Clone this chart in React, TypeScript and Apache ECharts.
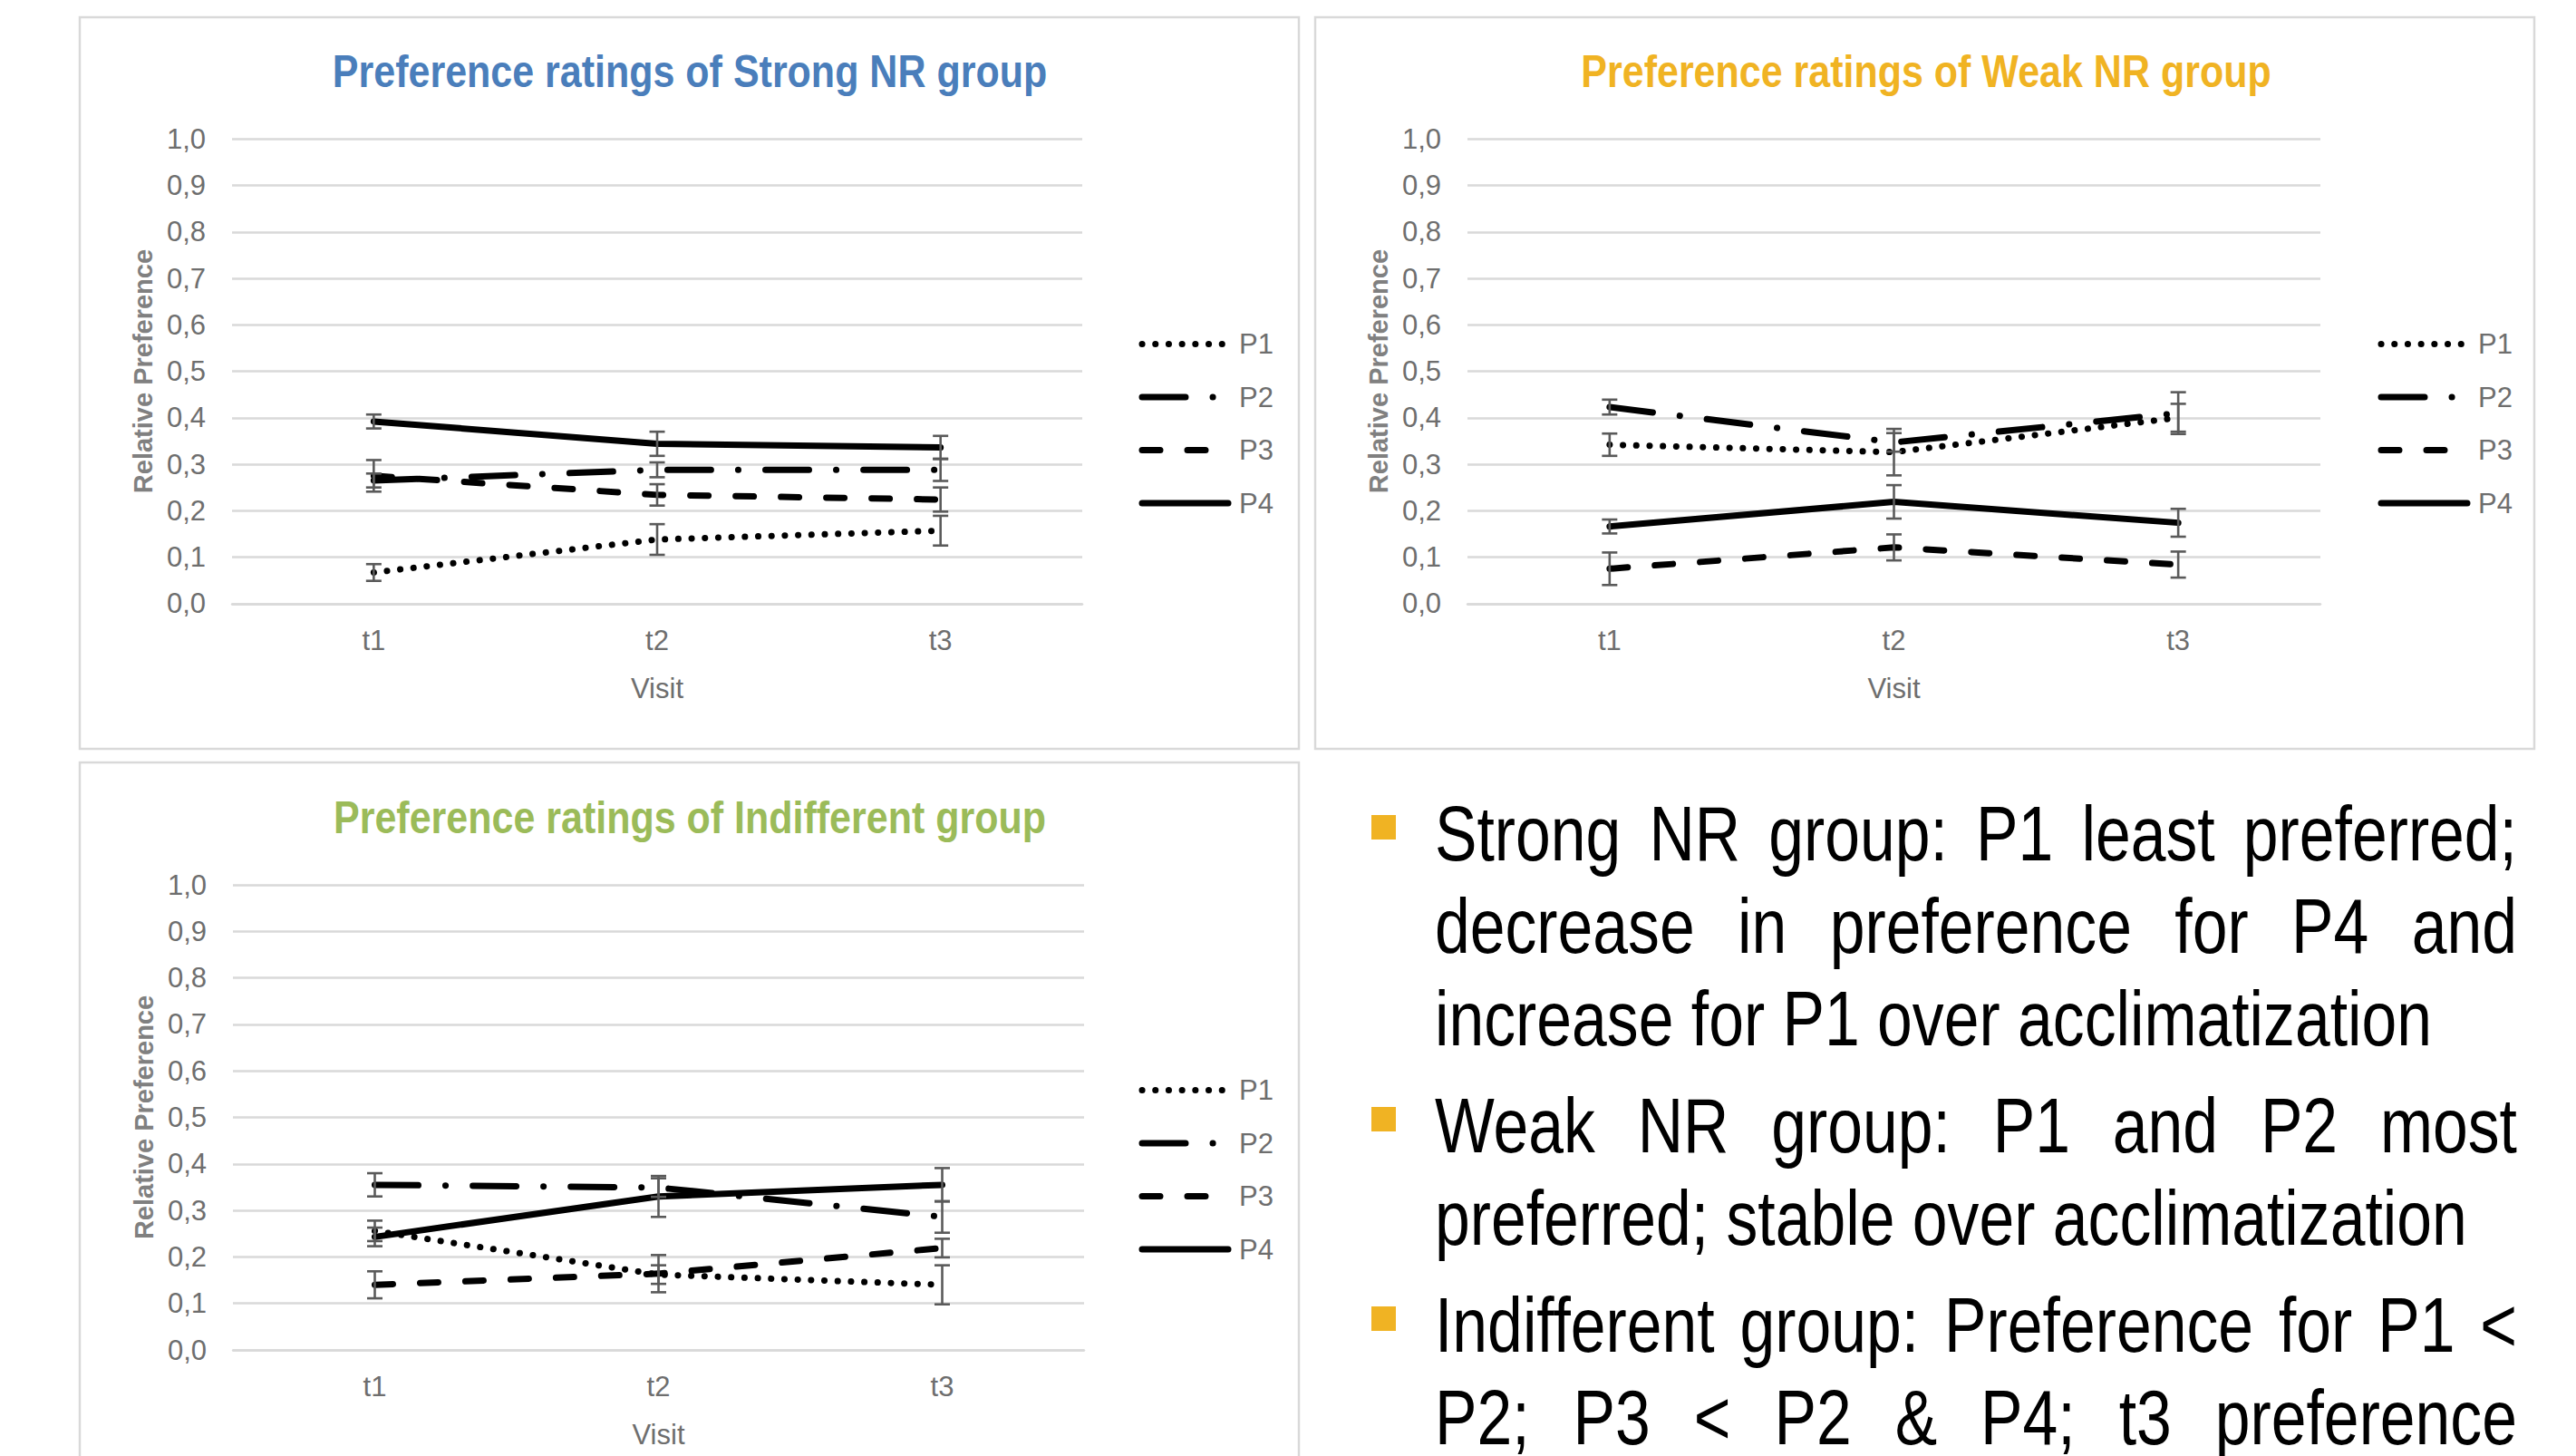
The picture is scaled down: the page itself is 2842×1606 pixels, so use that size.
import React, { useEffect, useRef } from 'react';
import * as echarts from 'echarts';

// ---------- data ----------
const categories = ['t1', 't2', 't3'];
const seriesNames = ['P1', 'P2', 'P3', 'P4'];
const yTickValues = [0, 0.1, 0.2, 0.3, 0.4, 0.5, 0.6, 0.7, 0.8, 0.9, 1.0];

const panelTitles = [
  'Preference ratings of Strong NR group',
  'Preference ratings of Weak NR group',
  'Preference ratings of Indifferent group',
];

// Strong NR group
const strongP1 = [0.067, 0.138, 0.157];
const strongP2 = [0.265, 0.288, 0.288];
const strongP3 = [0.275, 0.234, 0.224];
const strongP4 = [0.392, 0.344, 0.336];
const strongP1Err = [0.018, 0.033, 0.032];
const strongP2Err = [0.015, 0.016, 0.024];
const strongP3Err = [0.034, 0.023, 0.026];
const strongP4Err = [0.015, 0.026, 0.025];

// Weak NR group
const weakP1 = [0.342, 0.326, 0.4];
const weakP2 = [0.423, 0.347, 0.41];
const weakP3 = [0.075, 0.121, 0.084];
const weakP4 = [0.166, 0.219, 0.174];
const weakP1Err = [0.024, 0.05, 0.03];
const weakP2Err = [0.016, 0.02, 0.045];
const weakP3Err = [0.035, 0.028, 0.028];
const weakP4Err = [0.015, 0.036, 0.03];

// Indifferent group
const indiffP1 = [0.256, 0.162, 0.14];
const indiffP2 = [0.355, 0.349, 0.286];
const indiffP3 = [0.14, 0.164, 0.219];
const indiffP4 = [0.243, 0.33, 0.355];
const indiffP1Err = [0.022, 0.02, 0.042];
const indiffP2Err = [0.025, 0.02, 0.034];
const indiffP3Err = [0.029, 0.04, 0.02];
const indiffP4Err = [0.02, 0.044, 0.036];

const bulletParagraphs = [
  ['Strong NR group: P1 least preferred;', 'decrease in preference for P4 and', 'increase for P1 over acclimatization'],
  ['Weak NR group: P1 and P2 most', 'preferred; stable over acclimatization'],
  ['Indifferent group: Preference for P1 <', 'P2; P3 < P2 & P4; t3 preference'],
];
const paragraphContinues = [false, false, true];

// ---------- styles / layout ----------
const FAMILY = 'Liberation Sans, Arial, sans-serif';
const NARROW_SCALE = 0.82;
const TITLE_SCALE = 0.86;
const titleColors = ['#4A7EBB', '#F0B323', '#9BBB59'];
const GRID_COLOR = '#D9D9D9';
const LABEL_COLOR = '#6E6E6E';
const ERR_COLOR = '#5A5A5A';
const BULLET_COLOR = '#F0B323';

const panelData = [
  { means: [strongP1, strongP2, strongP3, strongP4], errs: [strongP1Err, strongP2Err, strongP3Err, strongP4Err] },
  { means: [weakP1, weakP2, weakP3, weakP4], errs: [weakP1Err, weakP2Err, weakP3Err, weakP4Err] },
  { means: [indiffP1, indiffP2, indiffP3, indiffP4], errs: [indiffP1Err, indiffP2Err, indiffP3Err, indiffP4Err] },
];

const panels = [
  { box: [88, 19, 1345, 807], grid: [256, 153.3, 938, 512.5], legend: [1256.5, 380], titleXY: [761, 79] },
  { box: [1451, 19, 1345, 807], grid: [1619, 153.3, 941, 512.5], legend: [2623.5, 380], titleXY: [2125, 79] },
  { box: [88, 841, 1345, 820], grid: [257, 976, 939, 513], legend: [1256.5, 1203], titleXY: [761, 902] },
];

const lineTypes: any[] = [
  { type: [0.1, 14.6], cap: 'round' },
  { type: [48, 30, 0.1, 30], cap: 'round' },
  { type: [20, 30], cap: 'round' },
  { type: 'solid', cap: 'round' },
];

function buildBodyText(): any[] {
  const els: any[] = [];
  const fontSize = 85;
  const font = `${fontSize}px ${FAMILY}`;
  const canvas = document.createElement('canvas');
  const ctx = canvas.getContext('2d') as CanvasRenderingContext2D;
  ctx.font = font;
  const left = 1583;
  const right = 2777;
  const lineStep = 102;
  const paraExtra = 16;
  let baseline = 949;
  bulletParagraphs.forEach((lines, p) => {
    els.push({
      type: 'rect',
      shape: { x: 1513, y: baseline - 50, width: 27, height: 27 },
      style: { fill: BULLET_COLOR },
    });
    lines.forEach((line, i) => {
      const isLast = i === lines.length - 1;
      const justify = !isLast || paragraphContinues[p];
      const yMid = baseline - 0.35 * fontSize;
      if (!justify) {
        els.push({
          type: 'text',
          x: left,
          y: yMid,
          scaleX: NARROW_SCALE,
          style: { text: line, font, fill: '#000', align: 'left', verticalAlign: 'middle' },
        });
      } else {
        const words = line.split(' ');
        const widths = words.map((w) => ctx.measureText(w).width * NARROW_SCALE);
        const total = widths.reduce((a, b) => a + b, 0);
        const gap = (right - left - total) / (words.length - 1);
        let x = left;
        words.forEach((w, k) => {
          els.push({
            type: 'text',
            x,
            y: yMid,
            scaleX: NARROW_SCALE,
            style: { text: w, font, fill: '#000', align: 'left', verticalAlign: 'middle' },
          });
          x += widths[k] + gap;
        });
      }
      baseline += lineStep;
    });
    baseline += paraExtra;
  });
  return els;
}

function buildOption(): any {
  const grids: any[] = [];
  const xAxes: any[] = [];
  const yAxes: any[] = [];
  const legends: any[] = [];
  const series: any[] = [];
  const graphics: any[] = [];

  panels.forEach((pn, g) => {
    graphics.push({
      type: 'rect',
      shape: { x: pn.box[0], y: pn.box[1], width: pn.box[2], height: pn.box[3] },
      style: { fill: 'none', stroke: GRID_COLOR, lineWidth: 2.5 },
      z: -10,
    });
    graphics.push({
      type: 'text',
      x: pn.titleXY[0],
      y: pn.titleXY[1],
      scaleX: TITLE_SCALE,
      style: {
        text: panelTitles[g],
        font: `bold 50px ${FAMILY}`,
        fill: titleColors[g],
        align: 'center',
        verticalAlign: 'middle',
      },
    });
    grids.push({ left: pn.grid[0], top: pn.grid[1], width: pn.grid[2], height: pn.grid[3], containLabel: false });
    xAxes.push({
      type: 'category',
      gridIndex: g,
      data: categories,
      boundaryGap: true,
      axisLine: { show: true, lineStyle: { color: GRID_COLOR, width: 2.5 } },
      axisTick: { show: false },
      axisLabel: { fontSize: 31, fontFamily: FAMILY, color: LABEL_COLOR, margin: 25 },
      name: 'Visit',
      nameLocation: 'middle',
      nameGap: 78,
      nameTextStyle: { fontSize: 31, fontFamily: FAMILY, color: LABEL_COLOR },
    });
    yAxes.push({
      type: 'value',
      gridIndex: g,
      min: 0,
      max: 1,
      interval: 0.1,
      axisLine: { show: false },
      axisTick: { show: false },
      splitLine: { show: true, lineStyle: { color: GRID_COLOR, width: 2.5 } },
      axisLabel: {
        fontSize: 31,
        fontFamily: FAMILY,
        color: LABEL_COLOR,
        margin: 29,
        formatter: (v: number) => {
          const t = yTickValues.find((tv) => Math.abs(tv - v) < 1e-6);
          return (t !== undefined ? t : v).toFixed(1).replace('.', ',');
        },
      },
      name: 'Relative Preference',
      nameLocation: 'middle',
      nameRotate: 90,
      nameGap: 84,
      nameTextStyle: { fontSize: 29, fontFamily: FAMILY, fontWeight: 'bold', color: '#808080' },
    });
    legends.push({
      orient: 'vertical',
      left: pn.legend[0] - 5,
      top: pn.legend[1] - 16 - 5,
      data: seriesNames,
      itemWidth: 95,
      itemHeight: 32,
      itemGap: 27.5,
      selectedMode: false,
      textStyle: { fontSize: 31, fontFamily: FAMILY, color: LABEL_COLOR, padding: [0, 0, 0, 7] },
      lineStyle: { width: 7 },
      itemStyle: { opacity: 0 },
    });

    const pd = panelData[g];
    seriesNames.forEach((name, s) => {
      series.push({
        type: 'line',
        name,
        xAxisIndex: g,
        yAxisIndex: g,
        data: pd.means[s],
        symbol: 'none',
        lineStyle: { color: '#000', width: 7, type: lineTypes[s].type, cap: lineTypes[s].cap, join: 'round' },
        itemStyle: { color: '#000' },
        z: 2,
      });
    });
    seriesNames.forEach((name, s) => {
      series.push({
        type: 'custom',
        name: `err-${g}-${name}`,
        xAxisIndex: g,
        yAxisIndex: g,
        silent: true,
        z: 3,
        encode: { x: 0, y: 1 },
        data: pd.means[s].map((v, i) => [i, v, pd.errs[s][i]]),
        renderItem: (params: any, api: any) => {
          const x = api.value(0);
          const v = api.value(1);
          const e = api.value(2);
          const top = api.coord([x, v + e]);
          const bot = api.coord([x, v - e]);
          const hw = 8.5;
          const st = { stroke: ERR_COLOR, lineWidth: 2.6 };
          return {
            type: 'group',
            children: [
              { type: 'line', shape: { x1: top[0], y1: top[1], x2: bot[0], y2: bot[1] }, style: st },
              { type: 'line', shape: { x1: top[0] - hw, y1: top[1], x2: top[0] + hw, y2: top[1] }, style: st },
              { type: 'line', shape: { x1: bot[0] - hw, y1: bot[1], x2: bot[0] + hw, y2: bot[1] }, style: st },
            ],
          };
        },
      });
    });
  });

  graphics.push(...buildBodyText());

  return {
    animation: false,
    backgroundColor: '#ffffff',
    grid: grids,
    xAxis: xAxes,
    yAxis: yAxes,
    legend: legends,
    series,
    graphic: { elements: graphics },
  };
}

export default function App() {
  const ref = useRef<HTMLDivElement>(null);
  useEffect(() => {
    if (!ref.current) return;
    const chart = echarts.init(ref.current, undefined, { renderer: 'svg' });
    chart.setOption(buildOption());
    return () => chart.dispose();
  }, []);
  return (
    <div
      ref={ref}
      style={{ position: 'absolute', left: 0, top: 0, width: 2842, height: 1606, background: '#fff' }}
    />
  );
}
